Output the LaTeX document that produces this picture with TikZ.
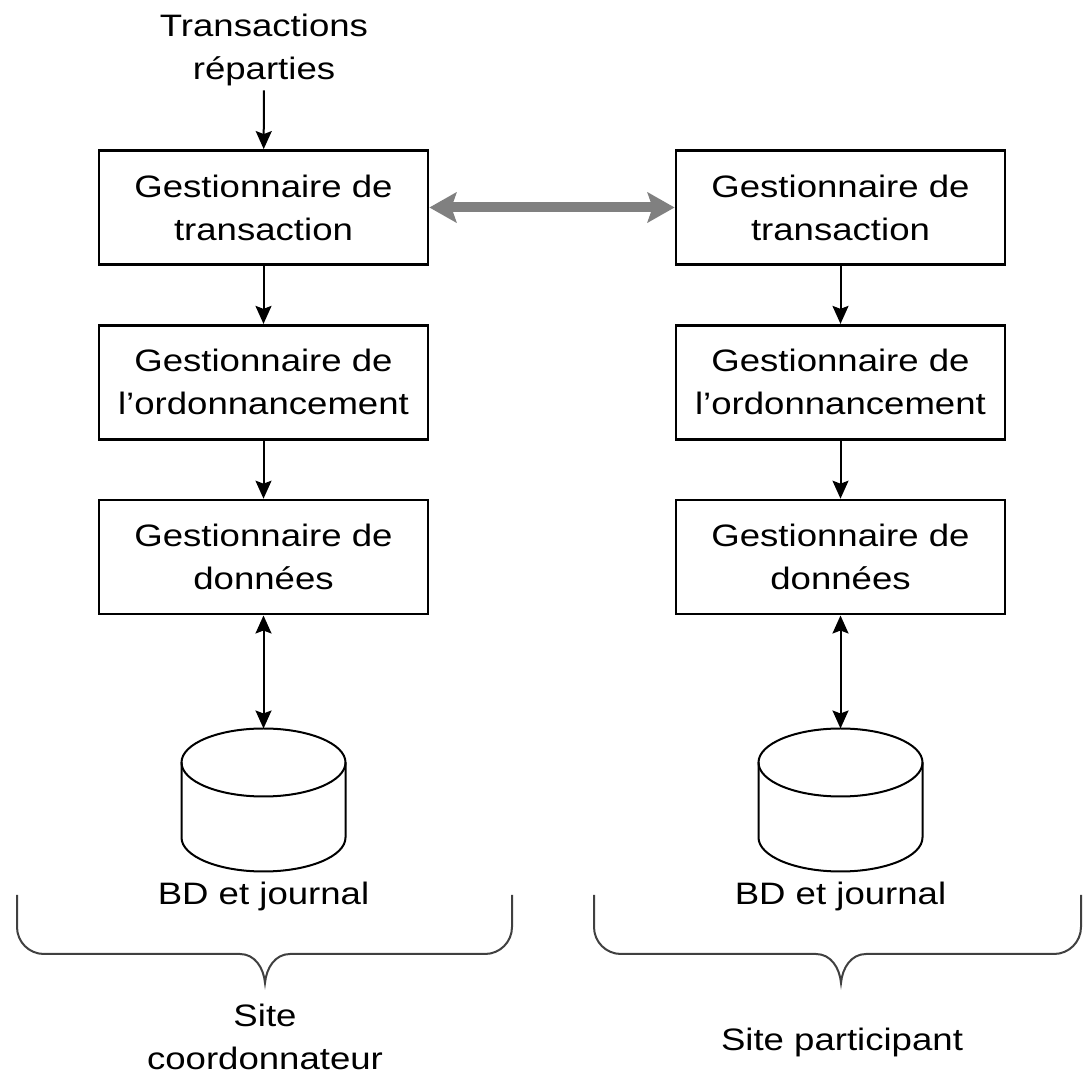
\documentclass[tikz,border=0pt]{standalone}
\usepackage{fontspec}
\setmainfont{Liberation Sans}[FakeStretch=1.18]
\usepackage{tikz}
\usetikzlibrary{arrows.meta,positioning}

\begin{document}
\begin{tikzpicture}[x=0.5pt,y=-0.5pt,font=\fontsize{15.5}{21.5}\selectfont,
    boite/.style={draw,line width=1.4pt,minimum width=164.5pt,minimum height=57pt,
      align=center,inner sep=0pt},
    bd/.style={minimum width=82pt,minimum height=71.5pt,inner sep=0pt,outer sep=0pt,
      label={[label distance=1.5pt]below:BD et journal}},
    cyl/.style={line width=1pt},
    pointe/.tip={Stealth[length=9pt,width=8pt,inset=1.5pt]},
    fleche/.style={line width=1pt,-pointe},
    gros/.tip={Stealth[length=13.5pt,width=15pt,inset=2.5pt]},
    gris/.style={line width=5pt,gray,gros-gros},
    accolade/.style={line width=1pt,black!75}]
  \useasboundingbox (0,0) rectangle (1083,1079);
  % site coordonnateur
  \node (src) [align=center,inner sep=2pt] at (264,50) {Transactions\\réparties};
  \node (gt1) [boite] at (263.5,207.5) {Gestionnaire de\\transaction};
  \node (go1) [boite,below=29pt of gt1] {Gestionnaire de\\l'ordonnancement};
  \node (gd1) [boite,below=29pt of go1] {Gestionnaire de\\données};
  \node (bd1) [bd,below=56.5pt of gd1] {};
  % site participant
  \node (gt2) [boite] at (840.5,207.5) {Gestionnaire de\\transaction};
  \node (go2) [boite,below=29pt of gt2] {Gestionnaire de\\l'ordonnancement};
  \node (gd2) [boite,below=29pt of go2] {Gestionnaire de\\données};
  \node (bd2) [bd,below=56.5pt of gd2] {};
  % cylindres
  \foreach \b in {bd1,bd2} {
    \draw[cyl] ([yshift=-17pt]\b.north) ellipse [x radius=41pt,y radius=17pt];
    \draw[cyl] ([yshift=-17pt]\b.north west) -- ([yshift=17pt]\b.south west)
      arc[start angle=180,end angle=360,x radius=41pt,y radius=17pt]
      -- ([yshift=-17pt]\b.north east);
  }
  \path[fleche] (src) edge (gt1)
    (gt1) edge (go1) (go1) edge (gd1)
    (gt2) edge (go2) (go2) edge (gd2);
  \path[fleche,pointe-pointe] (gd1) edge (bd1) (gd2) edge (bd2);
  \draw[gris] (gt1) -- (gt2);
  % accolades sous les deux sites
  \draw[accolade] (17,895) -- (17,927) to[out=-90,in=180] (44,954) -- (240,954)
    to[out=0,in=95] (265,983) to[out=85,in=180] (290,954) -- (485,954)
    to[out=0,in=-90] (512,927) -- (512,895);
  \draw[accolade] (594,895) -- (594,927) to[out=-90,in=180] (621,954) -- (816,954)
    to[out=0,in=95] (841,983) to[out=85,in=180] (866,954) -- (1054,954)
    to[out=0,in=-90] (1081,927) -- (1081,895);
  \node (coord) [align=center] at (265,1037) {Site\\coordonnateur};
  \node (part) at (842,1042) {Site participant};
\end{tikzpicture}
\end{document}
